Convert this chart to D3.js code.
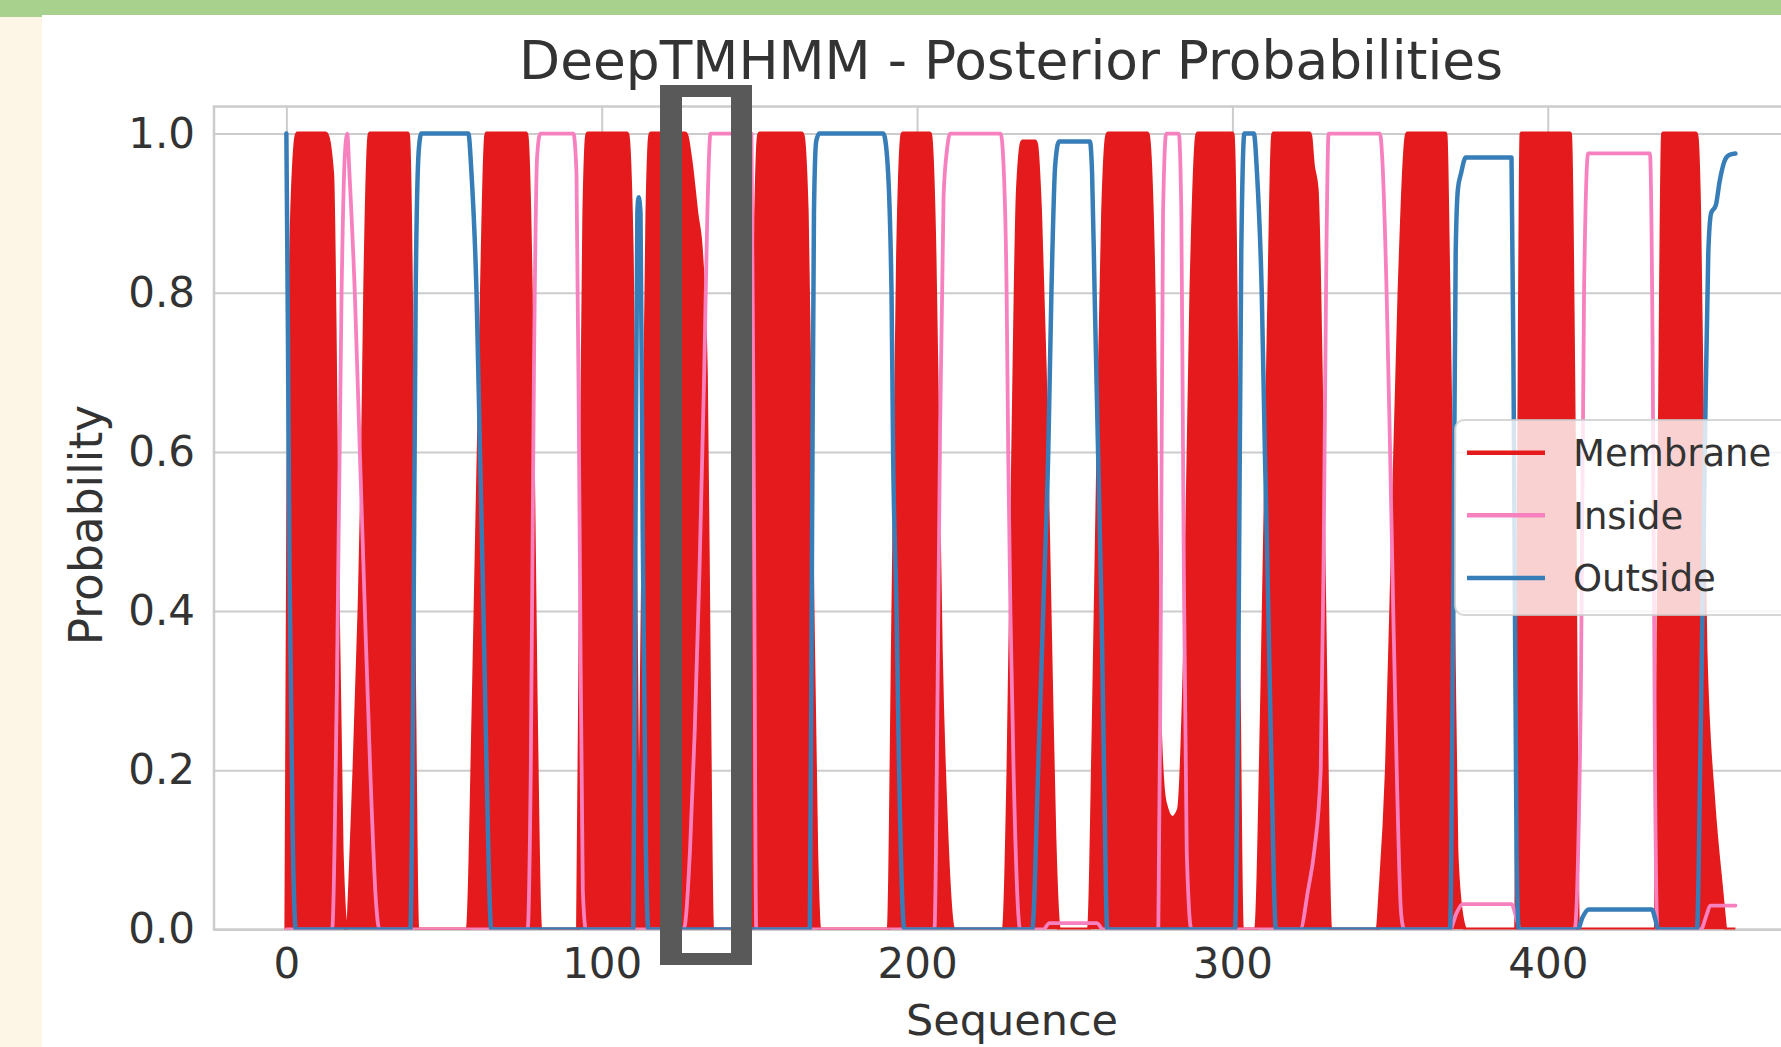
<!DOCTYPE html>
<html><head><meta charset="utf-8">
<script src="https://cdn.jsdelivr.net/npm/d3@7"></script>
<style>html,body{margin:0;padding:0;background:#fff;overflow:hidden}svg{display:block}</style>
</head><body>
<svg id="c" width="1781" height="1047"></svg>
<script>
// ---- data: [sequence position, probability] ----
const membrane = [
[0,0],[0.6,0.5],[2,0.92],[3.5,1],[12.5,1],[14.5,0.95],[16,0.5],[17.5,0.1],[19,0],
[21.6,0.2],[23.2,0.4],[24.3,0.6],[25,0.8],[26.5,1],[38.5,1],[39.5,0.8],[40.5,0.3],[41.5,0],
[57.5,0],[59.5,0.3],[61.5,0.7],[63.5,1],[76,1],[77.5,0.8],[79,0.3],[80.5,0],
[92.5,0],[93.5,0.5],[94.5,0.9],[95.5,1],[108,1],[109.5,0.85],[110.5,0.5],[111.8,0.06],[113,0.4],[114.5,0.9],[115.5,1],[126.5,1],[128,0.97],[130,0.9],[131.5,0.85],[133,0.7],[134,0.3],[135,0],
[147.5,0],[148.3,0.5],[149,0.9],[150,1],[163.5,1],[165,0.9],[166.5,0.5],[168,0.1],[169,0],
[191,0],[192.5,0.4],[194,0.85],[195.5,1],[204,1],[205.5,0.85],[206.5,0.6],[207.5,0.35],[209,0.15],[211.5,0],
[227.5,0],[229,0.2],[230.5,0.6],[232,0.93],[233.5,0.99],[237.5,0.99],[239,0.9],[240.5,0.7],[241.5,0.5],[242.5,0.3],[243.5,0.12],[245,0],
[254.5,0],[256,0.25],[257.5,0.6],[259,0.9],[260.5,1],[273,1],[274,0.95],[275,0.8],[276,0.5],[277,0.25],[278.5,0.16],[281,0.14],[283,0.15],
[285,0.35],[287,0.8],[289,1],[300,1],[301,0.8],[302,0.3],[303,0],
[307.5,0],[309.5,0.3],[311.5,0.75],[313,1],[324.5,1],[325.5,0.96],[326.7,0.93],[328,0.7],[329.5,0.3],[331,0],
[346,0],[347,0.05],[349,0.2],[351,0.5],[353,0.8],[355.5,1],[367.5,1],[368.5,0.8],[370,0.4],[371,0.1],[372.5,0.02],[374,0],
[390,0],[390.8,0.5],[391.7,1],[407,1],[408.3,0.6],[409.6,0],
[434.3,0],[435.5,0.6],[436.6,1],[447,1],[448,0.9],[449,0.6],[450,0.35],[452.5,0.16],[454.5,0.07],[456.8,0],[459.5,0]
];
const inside = [
[0,0],[14.5,0],[16,0.3],[17.5,0.8],[18.5,0.97],[19.3,1],[20,0.95],[21.7,0.8],[23.3,0.6],[24.9,0.4],[26.6,0.2],[28.5,0.03],[29.5,0],
[76.5,0],[77.5,0.2],[78.5,0.7],[79.5,0.97],[80.5,1],[91,1],[92,0.95],[93,0.5],[94,0.05],[95,0],
[126,0],[128,0.1],[129.5,0.25],[131,0.45],[132.5,0.7],[133.5,0.9],[134.5,1],[147.5,1],[148.3,0.5],[149,0],
[205.5,0],[206.5,0.3],[207.3,0.63],[208.4,0.92],[209.5,0.98],[210.5,1],[226.5,1],[227.3,0.97],[228.4,0.8],[228.9,0.6],[229.6,0.4],[230.6,0.2],[232.7,0],
[240,0],[242,0.008],[257,0.008],[259,0],
[276.5,0],[277.3,0.4],[278,0.9],[279,1],[283,1],[283.8,0.9],[284.5,0.5],[285.5,0.1],[287,0],
[321.5,0],[324,0.05],[326,0.1],[328,0.2],[329,0.5],[329.8,0.85],[330.5,1],[346.8,1],[347.5,0.97],[348.9,0.8],[350,0.6],[351,0.4],[352.1,0.2],[353.5,0.02],[354.5,0],
[369,0],[371,0.02],[373,0.032],[388.5,0.032],[390,0.015],[391.2,0],
[408.5,0],[410.5,0.3],[411.5,0.8],[412.8,0.975],[432.4,0.975],[433.3,0.7],[434,0.2],[434.8,0],
[448.5,0],[450.5,0.02],[451.5,0.03],[459.5,0.03]
];
const outside = [
[0,1],[0.5,0.75],[1,0.45],[2,0.12],[3,0],
[39.3,0],[40.2,0.3],[41,0.8],[42,0.98],[42.8,1],[57.7,1],[58.7,0.95],[60.3,0.8],[61.4,0.6],[62.5,0.4],[63.5,0.2],[65,0],
[110,0],[110.7,0.5],[111.3,0.9],[111.7,0.92],[112.3,0.9],[113,0.5],[114,0.1],[114.8,0],
[166,0],[166.7,0.5],[167.3,0.9],[168,0.99],[169,1],[189.3,1],[190.5,0.97],[191.9,0.8],[192.4,0.6],[193.5,0.4],[194.3,0.2],[196,0],
[236.5,0],[238.4,0.2],[240,0.4],[241.6,0.6],[242.6,0.8],[243.8,0.96],[245,0.99],[254.8,0.99],[255.5,0.95],[256.3,0.8],[257.4,0.6],[258.5,0.4],[259.3,0.2],[260.3,0],
[300.8,0],[302,0.4],[302.8,0.85],[303.8,1],[306.8,1],[307.8,0.95],[309.3,0.8],[310.3,0.6],[311.4,0.4],[312.4,0.2],[313.8,0],
[369,0],[370,0.4],[370.8,0.85],[371.5,0.93],[372.5,0.95],[374,0.97],[388.5,0.97],[389.3,0.6],[390.1,0.1],[390.8,0],
[409.5,0],[411,0.015],[413,0.025],[433,0.025],[434.3,0.01],[435,0],
[447.3,0],[448.5,0.25],[449.8,0.6],[450.9,0.85],[451.8,0.9],[453.3,0.91],[454.5,0.94],[456,0.965],[457.5,0.973],[459.5,0.975]
];
const seriesNames = ["Membrane", "Inside", "Outside"];
const xTicks = [0, 100, 200, 300, 400];
const yTicks = [0.0, 0.2, 0.4, 0.6, 0.8, 1.0];
const titleText = "DeepTMHMM - Posterior Probabilities";
const xLabel = "Sequence";
const yLabel = "Probability";
const seqLength = 460;

// ---- styling / layout ----
const colors = {Membrane: "#e41a1c", Inside: "#f781bf", Outside: "#377eb8"};
const FONT = "'DejaVu Sans', 'Liberation Sans', sans-serif";
const TEXT = "#333333";
const GRID = "#cccccc";

const svg = d3.select("#c");
// page decorations of the screenshot
svg.append("rect").attr("x",0).attr("y",0).attr("width",1781).attr("height",1047).attr("fill","#ffffff");
svg.append("rect").attr("x",0).attr("y",0).attr("width",1781).attr("height",15).attr("fill","#a9d18e");
svg.append("rect").attr("x",0).attr("y",15).attr("width",42).attr("height",1032).attr("fill","#fdf6e6");
svg.append("rect").attr("x",0).attr("y",15).attr("width",42).attr("height",2).attr("fill","#a9d18e");

const pad = 0.05 * (seqLength - 1);
const x = d3.scaleLinear().domain([-pad, (seqLength - 1) + pad]).range([214, 1806.2]);
const y = d3.scaleLinear().domain([0, 1.034]).range([929.5, 106.5]);
const [L, R] = x.range(), [B, T] = y.range();

svg.append("defs").append("clipPath").attr("id","plotclip")
  .append("rect").attr("x",L).attr("y",T).attr("width",R-L).attr("height",B-T);

// grid
const gx = svg.append("g").attr("transform",`translate(0,${B})`)
  .call(d3.axisBottom(x).tickValues(xTicks).tickSize(-(B-T)).tickFormat(""));
const gy = svg.append("g").attr("transform",`translate(${L},0)`)
  .call(d3.axisLeft(y).tickValues(yTicks).tickSize(-(R-L)).tickFormat(""));
[gx, gy].forEach(g => {
  g.select(".domain").remove();
  g.selectAll(".tick line").attr("stroke", GRID).attr("stroke-width", 2);
});

// frame
svg.append("rect").attr("x",L).attr("y",T).attr("width",R-L).attr("height",B-T)
  .attr("fill","none").attr("stroke",GRID).attr("stroke-width",2.5);

// tick labels
const xl = svg.append("g").attr("transform",`translate(0,${B})`)
  .call(d3.axisBottom(x).tickValues(xTicks).tickSize(0).tickPadding(19).tickFormat(d3.format("d")));
const yl = svg.append("g").attr("transform",`translate(${L},0)`)
  .call(d3.axisLeft(y).tickValues(yTicks).tickSize(0).tickPadding(19).tickFormat(d3.format(".1f")));
[xl, yl].forEach(g => {
  g.select(".domain").remove();
  g.selectAll("text").attr("font-family", FONT).attr("font-size", 42).attr("fill", TEXT);
});

// data
const plot = svg.append("g").attr("clip-path","url(#plotclip)");
const curve = d3.curveMonotoneX;
const area = d3.area().x(d => x(d[0])).y0(y(0)).y1(d => y(d[1])).curve(curve);
const line = d3.line().x(d => x(d[0])).y(d => y(d[1])).curve(curve);
const dataBy = {Membrane: membrane, Inside: inside, Outside: outside};

plot.append("path").datum(membrane).attr("d", area).attr("fill", colors.Membrane);
plot.append("path").datum(membrane).attr("d", line).attr("fill","none")
  .attr("stroke", colors.Membrane).attr("stroke-width", 4).attr("stroke-linejoin","round");
["Inside","Outside"].forEach(n => {
  plot.append("path").datum(dataBy[n]).attr("d", line).attr("fill","none")
    .attr("stroke", colors[n]).attr("stroke-width", n === "Outside" ? 4.5 : 3.8)
    .attr("stroke-linejoin","round").attr("stroke-linecap","round");
});

// legend
const lg = svg.append("g");
lg.append("rect").attr("x",1455).attr("y",420).attr("width",420).attr("height",195).attr("rx",9)
  .attr("fill","#ffffff").attr("fill-opacity",0.8).attr("stroke",GRID).attr("stroke-opacity",0.8).attr("stroke-width",2);
seriesNames.forEach((n, i) => {
  const cy = 452.7 + i * 62.6;
  lg.append("line").attr("x1",1467).attr("x2",1545).attr("y1",cy).attr("y2",cy)
    .attr("stroke", colors[n]).attr("stroke-width", 4.5);
  lg.append("text").attr("x",1573).attr("y",cy).attr("dy","0.36em").text(n)
    .attr("font-family",FONT).attr("font-size",37).attr("fill",TEXT);
});

// titles
svg.append("text").attr("x",1011).attr("y",79).attr("text-anchor","middle").text(titleText)
  .attr("font-family",FONT).attr("font-size",53.4).attr("fill",TEXT);
svg.append("text").attr("x",1012).attr("y",1035).attr("text-anchor","middle").text(xLabel)
  .attr("font-family",FONT).attr("font-size",43).attr("fill",TEXT);
svg.append("text").attr("transform","translate(102,525) rotate(-90)").attr("text-anchor","middle").text(yLabel)
  .attr("font-family",FONT).attr("font-size",45.5).attr("fill",TEXT);

// highlight box (annotation on the screenshot)
svg.append("path")
  .attr("d","M660,85H752V965H660Z M682,97V953H731V97Z")
  .attr("fill","#595959").attr("fill-rule","evenodd");
</script>
</body></html>
